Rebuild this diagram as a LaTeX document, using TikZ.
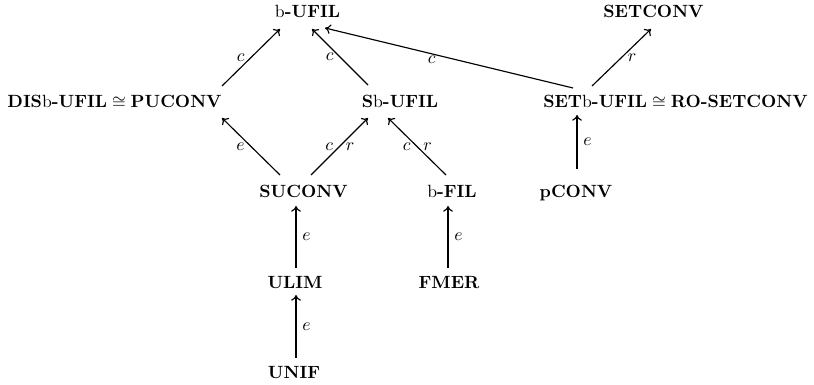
\documentclass[tikz,border=0pt]{standalone}
\usetikzlibrary{arrows.meta}
\begin{document}
\begin{tikzpicture}[x=0.565pt,y=-0.565pt,
  lbl/.style={anchor=base,inner sep=0pt},
  arr/.style={-{To[length=3.2pt,width=5.5pt]},line width=0.65pt}]
\useasboundingbox (0,0) rectangle (814,385);
% nodes (anchored at baseline)
\node[lbl] (bufil)   at (307.5,18) {b\textbf{-UFIL}};
\node[lbl] (setconv) at (653.5,18) {\textbf{SETCONV}};
\node[lbl] (dis)     at (114.5,108) {\textbf{DIS}b\textbf{-UFIL}${}\cong{}$\textbf{PUCONV}};
\node[lbl] (sb)      at (400,108) {\textbf{S}b\textbf{-UFIL}};
\node[lbl] (setb)    at (675.5,108) {\textbf{SET}b\textbf{-UFIL}${}\cong{}$\textbf{RO-SETCONV}};
\node[lbl] (suc)     at (303.5,198) {\textbf{SUCONV}};
\node[lbl] (bfil)    at (452,198) {b\textbf{-FIL}};
\node[lbl] (pconv)   at (576,198) {\textbf{pCONV}};
\node[lbl] (ulim)    at (295,288) {\textbf{ULIM}};
\node[lbl] (fmer)    at (449,288) {\textbf{FMER}};
\node[lbl] (unif)    at (294,378) {\textbf{UNIF}};
% connectors
\draw[arr] ([shift={(107.5,-22)}]dis.base) -- ([shift={(-27.5,11)}]bufil.base)
  node[midway,left] {$c$};
\draw[arr] ([shift={(-32,-23)}]sb.base) -- ([shift={(4.5,11)}]bufil.base)
  node[midway,left] {$c$};
\draw[arr] ([shift={(-102.5,-20)}]setb.base) -- ([shift={(17.5,10)}]bufil.base)
  node[pos=0.57,below,inner sep=1pt] {$c$};
\draw[arr] ([shift={(-83.5,-22)}]setb.base) -- ([shift={(-2.5,11)}]setconv.base)
  node[midway,right] {$r$};
\draw[arr] ([shift={(-23.5,-23)}]suc.base) -- ([shift={(107.5,10)}]dis.base)
  node[midway,left] {$e$};
\draw[arr] ([shift={(7.5,-23)}]suc.base) -- ([shift={(-32,10)}]sb.base)
  node[midway,left] {$c$} node[midway,right] {$r$};
\draw[arr] ([shift={(-6,-23)}]bfil.base) -- ([shift={(-12,10)}]sb.base)
  node[midway,left] {$c$} node[midway,right] {$r$};
\draw[arr] ([shift={(1,-29)}]pconv.base) -- ([shift={(-98.5,7)}]setb.base)
  node[midway,right] {$e$};
\draw[arr] ([shift={(1,-20)}]ulim.base) -- ([shift={(-7.5,8)}]suc.base)
  node[midway,right] {$e$};
\draw[arr] ([shift={(-1,-20)}]fmer.base) -- ([shift={(-4,8)}]bfil.base)
  node[midway,right] {$e$};
\draw[arr] ([shift={(2,-20)}]unif.base) -- ([shift={(1,7)}]ulim.base)
  node[midway,right] {$e$};
\end{tikzpicture}
\end{document}
